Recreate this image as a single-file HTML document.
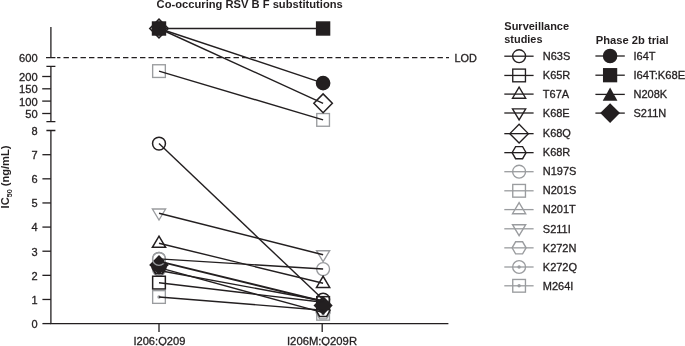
<!DOCTYPE html>
<html><head><meta charset="utf-8"><title>chart</title><style>html,body{margin:0;padding:0;background:#fff}body{width:685px;height:346px;overflow:hidden}svg{will-change:transform;opacity:0.999}</style></head><body>
<svg width="685" height="346" viewBox="0 0 685 346" style="display:block;font-family:'Liberation Sans',sans-serif">
<rect width="685" height="346" fill="#fff"/>
<text x="156.6" y="8.3" font-size="11" font-weight="bold" fill="#231f20" textLength="186.2" lengthAdjust="spacingAndGlyphs">Co-occuring RSV B F substitutions</text>
<g transform="translate(9.4,208.4) rotate(-90)"><text x="0" y="0" font-size="11" font-weight="bold" fill="#231f20" textLength="62.8" lengthAdjust="spacingAndGlyphs">IC<tspan font-size="7.2" dy="2.4">50</tspan><tspan dy="-2.4"> (ng/mL)</tspan></text></g>
<path d="M50.9 27.1 V57.55 M46 57.55 H55.4" stroke="#231f20" stroke-width="1.3" fill="none"/>
<path d="M46.4 66.4 H55.4 M50.9 66.4 V121.6 M46.4 121.6 H55.4" stroke="#231f20" stroke-width="1.3" fill="none"/>
<path d="M42.2 76.5 H50.9" stroke="#231f20" stroke-width="1.3" fill="none"/>
<path d="M42.2 88.8 H50.9" stroke="#231f20" stroke-width="1.3" fill="none"/>
<path d="M42.2 101.1 H50.9" stroke="#231f20" stroke-width="1.3" fill="none"/>
<path d="M42.2 113.5 H50.9" stroke="#231f20" stroke-width="1.3" fill="none"/>
<path d="M46.4 130.5 H55.4 M50.9 130.5 V323.6" stroke="#231f20" stroke-width="1.3" fill="none"/>
<path d="M42.4 323.60 H50.9" stroke="#231f20" stroke-width="1.3" fill="none"/>
<path d="M42.4 299.47 H50.9" stroke="#231f20" stroke-width="1.3" fill="none"/>
<path d="M42.4 275.34 H50.9" stroke="#231f20" stroke-width="1.3" fill="none"/>
<path d="M42.4 251.21 H50.9" stroke="#231f20" stroke-width="1.3" fill="none"/>
<path d="M42.4 227.08 H50.9" stroke="#231f20" stroke-width="1.3" fill="none"/>
<path d="M42.4 202.95 H50.9" stroke="#231f20" stroke-width="1.3" fill="none"/>
<path d="M42.4 178.82 H50.9" stroke="#231f20" stroke-width="1.3" fill="none"/>
<path d="M42.4 154.69 H50.9" stroke="#231f20" stroke-width="1.3" fill="none"/>
<path d="M50.25 323.6 H448.4 M159 323.6 V331.9 M322.2 323.6 V331.9" stroke="#231f20" stroke-width="1.3" fill="none"/>
<path d="M57.1 57.55 H449" stroke="#231f20" stroke-width="1.3" stroke-dasharray="5.4 3.1" stroke-dashoffset="2.1" fill="none"/>
<text x="37.7" y="61.8" font-size="11" text-anchor="end" fill="#231f20" stroke="#231f20" stroke-width="0.3" textLength="18.6" lengthAdjust="spacingAndGlyphs">600</text>
<text x="37.7" y="80.9" font-size="11" text-anchor="end" fill="#231f20" stroke="#231f20" stroke-width="0.3" textLength="18.6" lengthAdjust="spacingAndGlyphs">200</text>
<text x="37.7" y="93.2" font-size="11" text-anchor="end" fill="#231f20" stroke="#231f20" stroke-width="0.3" textLength="18.6" lengthAdjust="spacingAndGlyphs">150</text>
<text x="37.7" y="105.5" font-size="11" text-anchor="end" fill="#231f20" stroke="#231f20" stroke-width="0.3" textLength="18.6" lengthAdjust="spacingAndGlyphs">100</text>
<text x="37.7" y="117.9" font-size="11" text-anchor="end" fill="#231f20" stroke="#231f20" stroke-width="0.3" textLength="12.4" lengthAdjust="spacingAndGlyphs">50</text>
<text x="37.7" y="327.9" font-size="11" text-anchor="end" fill="#231f20" stroke="#231f20" stroke-width="0.3">0</text>
<text x="37.7" y="303.77" font-size="11" text-anchor="end" fill="#231f20" stroke="#231f20" stroke-width="0.3">1</text>
<text x="37.7" y="279.64" font-size="11" text-anchor="end" fill="#231f20" stroke="#231f20" stroke-width="0.3">2</text>
<text x="37.7" y="255.51000000000005" font-size="11" text-anchor="end" fill="#231f20" stroke="#231f20" stroke-width="0.3">3</text>
<text x="37.7" y="231.38000000000005" font-size="11" text-anchor="end" fill="#231f20" stroke="#231f20" stroke-width="0.3">4</text>
<text x="37.7" y="207.25000000000006" font-size="11" text-anchor="end" fill="#231f20" stroke="#231f20" stroke-width="0.3">5</text>
<text x="37.7" y="183.12000000000003" font-size="11" text-anchor="end" fill="#231f20" stroke="#231f20" stroke-width="0.3">6</text>
<text x="37.7" y="158.99000000000004" font-size="11" text-anchor="end" fill="#231f20" stroke="#231f20" stroke-width="0.3">7</text>
<text x="37.7" y="134.86000000000004" font-size="11" text-anchor="end" fill="#231f20" stroke="#231f20" stroke-width="0.3">8</text>
<text x="454.5" y="61.9" font-size="11" text-anchor="start" fill="#231f20" stroke="#231f20" stroke-width="0.3" textLength="22.4" lengthAdjust="spacingAndGlyphs">LOD</text>
<text x="159.4" y="345.2" font-size="11" text-anchor="middle" fill="#231f20" stroke="#231f20" stroke-width="0.3" textLength="52.0" lengthAdjust="spacingAndGlyphs">I206:Q209</text>
<text x="322.0" y="345.2" font-size="11" text-anchor="middle" fill="#231f20" stroke="#231f20" stroke-width="0.3" textLength="70.0" lengthAdjust="spacingAndGlyphs">I206M:Q209R</text>
<circle cx="159.00" cy="258.90" r="6.45" fill="none" stroke="#9a9c9f" stroke-width="1.35" stroke-linejoin="miter"/>
<circle cx="323.10" cy="269.10" r="6.45" fill="none" stroke="#9a9c9f" stroke-width="1.35" stroke-linejoin="miter"/>
<rect x="152.65" y="64.75" width="12.7" height="12.7" fill="none" stroke="#9a9c9f" stroke-width="1.35" stroke-linejoin="miter"/>
<rect x="316.75" y="113.55" width="12.7" height="12.7" fill="none" stroke="#9a9c9f" stroke-width="1.35" stroke-linejoin="miter"/>
<path d="M152.40 209.00 L165.60 209.00 L159.00 220.00 Z" fill="none" stroke="#9a9c9f" stroke-width="1.35" stroke-linejoin="miter"/>
<path d="M316.50 250.70 L329.70 250.70 L323.10 261.70 Z" fill="none" stroke="#9a9c9f" stroke-width="1.35" stroke-linejoin="miter"/>
<path d="M330.10 312.80 L326.60 318.86 L319.60 318.86 L316.10 312.80 L319.60 306.74 L326.60 306.74 Z" fill="none" stroke="#9a9c9f" stroke-width="1.35" stroke-linejoin="miter"/>
<circle cx="159.00" cy="269.50" r="6.45" fill="none" stroke="#9a9c9f" stroke-width="1.35" stroke-linejoin="miter"/><circle cx="159.00" cy="269.50" r="1.7" fill="#9a9c9f"/>
<rect x="152.65" y="290.65" width="12.7" height="12.7" fill="none" stroke="#9a9c9f" stroke-width="1.35" stroke-linejoin="miter"/><circle cx="159.00" cy="297.00" r="1.7" fill="#9a9c9f"/>
<rect x="316.75" y="307.45" width="12.7" height="12.7" fill="none" stroke="#9a9c9f" stroke-width="1.35" stroke-linejoin="miter"/><circle cx="323.10" cy="313.80" r="1.7" fill="#9a9c9f"/>
<circle cx="159.00" cy="143.60" r="6.45" fill="none" stroke="#231f20" stroke-width="1.5" stroke-linejoin="miter"/>
<circle cx="323.10" cy="299.60" r="6.45" fill="none" stroke="#231f20" stroke-width="1.5" stroke-linejoin="miter"/>
<rect x="152.65" y="276.25" width="12.7" height="12.7" fill="none" stroke="#231f20" stroke-width="1.5" stroke-linejoin="miter"/>
<rect x="316.75" y="296.65" width="12.7" height="12.7" fill="none" stroke="#231f20" stroke-width="1.5" stroke-linejoin="miter"/>
<path d="M152.40 247.30 L165.60 247.30 L159.00 236.20 Z" fill="none" stroke="#231f20" stroke-width="1.5" stroke-linejoin="miter"/>
<path d="M316.50 287.40 L329.70 287.40 L323.10 276.30 Z" fill="none" stroke="#231f20" stroke-width="1.5" stroke-linejoin="miter"/>
<path d="M149.75 28.50 L159.00 19.10 L168.25 28.50 L159.00 37.90 Z" fill="none" stroke="#231f20" stroke-width="1.5" stroke-linejoin="miter"/>
<path d="M313.85 103.30 L323.10 93.90 L332.35 103.30 L323.10 112.70 Z" fill="none" stroke="#231f20" stroke-width="1.5" stroke-linejoin="miter"/>
<path d="M166.00 267.80 L162.50 273.86 L155.50 273.86 L152.00 267.80 L155.50 261.74 L162.50 261.74 Z" fill="none" stroke="#231f20" stroke-width="1.5" stroke-linejoin="miter"/>
<path d="M330.10 310.40 L326.60 316.46 L319.60 316.46 L316.10 310.40 L319.60 304.34 L326.60 304.34 Z" fill="none" stroke="#231f20" stroke-width="1.5" stroke-linejoin="miter"/>
<circle cx="159.00" cy="28.50" r="6.6" fill="#231f20" stroke="#231f20" stroke-width="1.5" stroke-linejoin="miter"/>
<circle cx="323.10" cy="83.10" r="6.6" fill="#231f20" stroke="#231f20" stroke-width="1.5" stroke-linejoin="miter"/>
<rect x="152.55" y="22.05" width="12.9" height="12.9" fill="#231f20" stroke="#231f20" stroke-width="1.5" stroke-linejoin="miter"/>
<rect x="316.65" y="22.05" width="12.9" height="12.9" fill="#231f20" stroke="#231f20" stroke-width="1.5" stroke-linejoin="miter"/>
<path d="M149.40 264.90 L159.00 255.30 L168.60 264.90 L159.00 274.50 Z" fill="#231f20"/>
<path d="M313.50 305.50 L323.10 295.90 L332.70 305.50 L323.10 315.10 Z" fill="#231f20"/>
<path d="M165.30 267.80 L162.15 273.26 L155.85 273.26 L152.70 267.80 L155.85 262.34 L162.15 262.34 Z" fill="none" stroke="#231f20" stroke-width="1.6"/>
<path d="M149.40 264.90 L159.00 255.30 L168.60 264.90 L159.00 274.50 Z" fill="#231f20"/>
<circle cx="159.00" cy="258.90" r="6.45" fill="none" stroke="#9a9c9f" stroke-width="1.35" stroke-linejoin="miter"/>
<path d="M159.0 261.3 L323.1 301.5" stroke="#231f20" stroke-width="1.85" fill="none"/>
<path d="M159.0 143.6 L323.1 299.6" stroke="#231f20" stroke-width="1.4" fill="none"/>
<path d="M159.0 282.8 L323.1 302.3" stroke="#231f20" stroke-width="1.4" fill="none"/>
<path d="M159.0 243.2 L323.1 283.3" stroke="#231f20" stroke-width="1.4" fill="none"/>
<path d="M159.0 28.5 L323.1 103.3" stroke="#231f20" stroke-width="1.4" fill="none"/>
<path d="M159.0 258.9 L323.1 269.0" stroke="#231f20" stroke-width="1.4" fill="none"/>
<path d="M159.0 71.1 L323.1 119.9" stroke="#231f20" stroke-width="1.4" fill="none"/>
<path d="M159.0 213.2 L323.1 254.8" stroke="#231f20" stroke-width="1.4" fill="none"/>
<path d="M159.0 297.0 L323.1 310.2" stroke="#231f20" stroke-width="1.4" fill="none"/>
<path d="M159.0 28.5 L323.1 83.1" stroke="#231f20" stroke-width="1.4" fill="none"/>
<path d="M159.0 28.5 L323.1 28.5" stroke="#231f20" stroke-width="1.4" fill="none"/>
<path d="M159.0 270.5 L323.1 300.8" stroke="#231f20" stroke-width="1.4" fill="none"/>
<path d="M159.0 267.6 L323.1 312.6" stroke="#231f20" stroke-width="1.4" fill="none"/>
<text x="504.3" y="29.6" font-size="11" text-anchor="start" fill="#231f20" font-weight="bold" textLength="64.8" lengthAdjust="spacingAndGlyphs">Surveillance</text>
<text x="504.3" y="43.2" font-size="11" text-anchor="start" fill="#231f20" font-weight="bold" textLength="38.2" lengthAdjust="spacingAndGlyphs">studies</text>
<text x="595.7" y="43.6" font-size="11" text-anchor="start" fill="#231f20" font-weight="bold" textLength="72.9" lengthAdjust="spacingAndGlyphs">Phase 2b trial</text>
<path d="M504.3 56.20 H533.6" stroke="#231f20" stroke-width="1.3"/>
<circle cx="519.10" cy="56.20" r="6.45" fill="none" stroke="#231f20" stroke-width="1.35" stroke-linejoin="miter"/>
<text x="542.8" y="60.1" font-size="11" text-anchor="start" fill="#231f20" stroke="#231f20" stroke-width="0.3">N63S</text>
<path d="M504.3 75.45 H533.6" stroke="#231f20" stroke-width="1.3"/>
<rect x="512.75" y="69.10" width="12.7" height="12.7" fill="none" stroke="#231f20" stroke-width="1.35" stroke-linejoin="miter"/>
<text x="542.8" y="79.23" font-size="11" text-anchor="start" fill="#231f20" stroke="#231f20" stroke-width="0.3">K65R</text>
<path d="M504.3 94.10 H533.6" stroke="#231f20" stroke-width="1.3"/>
<path d="M512.50 98.20 L525.70 98.20 L519.10 87.10 Z" fill="none" stroke="#231f20" stroke-width="1.35" stroke-linejoin="miter"/>
<text x="542.8" y="98.36000000000001" font-size="11" text-anchor="start" fill="#231f20" stroke="#231f20" stroke-width="0.3">T67A</text>
<path d="M504.3 113.00 H533.6" stroke="#231f20" stroke-width="1.3"/>
<path d="M512.50 108.90 L525.70 108.90 L519.10 119.90 Z" fill="none" stroke="#231f20" stroke-width="1.35" stroke-linejoin="miter"/>
<text x="542.8" y="117.49000000000001" font-size="11" text-anchor="start" fill="#231f20" stroke="#231f20" stroke-width="0.3">K68E</text>
<path d="M504.3 133.65 H533.6" stroke="#231f20" stroke-width="1.3"/>
<path d="M509.85 133.65 L519.10 124.25 L528.35 133.65 L519.10 143.05 Z" fill="none" stroke="#231f20" stroke-width="1.35" stroke-linejoin="miter"/>
<text x="542.8" y="136.62" font-size="11" text-anchor="start" fill="#231f20" stroke="#231f20" stroke-width="0.3">K68Q</text>
<path d="M504.3 152.65 H533.6" stroke="#231f20" stroke-width="1.3"/>
<path d="M526.10 152.65 L522.60 158.71 L515.60 158.71 L512.10 152.65 L515.60 146.59 L522.60 146.59 Z" fill="none" stroke="#231f20" stroke-width="1.35" stroke-linejoin="miter"/>
<text x="542.8" y="155.75" font-size="11" text-anchor="start" fill="#231f20" stroke="#231f20" stroke-width="0.3">K68R</text>
<path d="M504.3 171.70 H533.6" stroke="#9a9c9f" stroke-width="1.3"/>
<circle cx="519.10" cy="171.70" r="6.45" fill="none" stroke="#9a9c9f" stroke-width="1.35" stroke-linejoin="miter"/>
<text x="542.8" y="175.23000000000002" font-size="11" text-anchor="start" fill="#231f20" stroke="#231f20" stroke-width="0.3">N197S</text>
<path d="M504.3 190.80 H533.6" stroke="#9a9c9f" stroke-width="1.3"/>
<rect x="512.75" y="184.45" width="12.7" height="12.7" fill="none" stroke="#9a9c9f" stroke-width="1.35" stroke-linejoin="miter"/>
<text x="542.8" y="194.41000000000003" font-size="11" text-anchor="start" fill="#231f20" stroke="#231f20" stroke-width="0.3">N201S</text>
<path d="M504.3 209.60 H533.6" stroke="#9a9c9f" stroke-width="1.3"/>
<path d="M512.50 213.70 L525.70 213.70 L519.10 202.60 Z" fill="none" stroke="#9a9c9f" stroke-width="1.35" stroke-linejoin="miter"/>
<text x="542.8" y="213.39000000000001" font-size="11" text-anchor="start" fill="#231f20" stroke="#231f20" stroke-width="0.3">N201T</text>
<path d="M504.3 228.80 H533.6" stroke="#9a9c9f" stroke-width="1.3"/>
<path d="M512.50 224.70 L525.70 224.70 L519.10 235.70 Z" fill="none" stroke="#9a9c9f" stroke-width="1.35" stroke-linejoin="miter"/>
<text x="542.8" y="232.52" font-size="11" text-anchor="start" fill="#231f20" stroke="#231f20" stroke-width="0.3">S211I</text>
<path d="M504.3 247.85 H533.6" stroke="#9a9c9f" stroke-width="1.3"/>
<path d="M526.10 247.85 L522.60 253.91 L515.60 253.91 L512.10 247.85 L515.60 241.79 L522.60 241.79 Z" fill="none" stroke="#9a9c9f" stroke-width="1.35" stroke-linejoin="miter"/>
<text x="542.8" y="251.65" font-size="11" text-anchor="start" fill="#231f20" stroke="#231f20" stroke-width="0.3">K272N</text>
<path d="M504.3 267.00 H533.6" stroke="#9a9c9f" stroke-width="1.3"/>
<circle cx="519.10" cy="267.00" r="6.45" fill="none" stroke="#9a9c9f" stroke-width="1.35" stroke-linejoin="miter"/><circle cx="519.10" cy="267.00" r="1.7" fill="#9a9c9f"/>
<text x="542.8" y="270.78" font-size="11" text-anchor="start" fill="#231f20" stroke="#231f20" stroke-width="0.3">K272Q</text>
<path d="M504.3 285.80 H533.6" stroke="#9a9c9f" stroke-width="1.3"/>
<rect x="512.75" y="279.45" width="12.7" height="12.7" fill="none" stroke="#9a9c9f" stroke-width="1.35" stroke-linejoin="miter"/><circle cx="519.10" cy="285.80" r="1.7" fill="#9a9c9f"/>
<text x="542.8" y="289.65999999999997" font-size="11" text-anchor="start" fill="#231f20" stroke="#231f20" stroke-width="0.3">M264I</text>
<path d="M595.4 56.00 H624.8" stroke="#231f20" stroke-width="1.3"/>
<circle cx="610.10" cy="56.00" r="6.6" fill="#231f20" stroke="#231f20" stroke-width="1.35" stroke-linejoin="miter"/>
<text x="633.5" y="59.9" font-size="11" text-anchor="start" fill="#231f20" stroke="#231f20" stroke-width="0.3">I64T</text>
<path d="M595.4 75.20 H624.8" stroke="#231f20" stroke-width="1.3"/>
<rect x="603.65" y="68.75" width="12.9" height="12.9" fill="#231f20" stroke="#231f20" stroke-width="1.35" stroke-linejoin="miter"/>
<text x="633.5" y="79.10000000000001" font-size="11" text-anchor="start" fill="#231f20" stroke="#231f20" stroke-width="0.3" textLength="51.7" lengthAdjust="spacingAndGlyphs">I64T:K68E</text>
<path d="M595.4 94.40 H624.8" stroke="#231f20" stroke-width="1.3"/>
<path d="M602.75 100.70 L617.45 100.70 L610.10 87.60 Z" fill="#231f20"/>
<text x="633.5" y="98.30000000000001" font-size="11" text-anchor="start" fill="#231f20" stroke="#231f20" stroke-width="0.3">N208K</text>
<path d="M595.4 113.10 H624.8" stroke="#231f20" stroke-width="1.3"/>
<path d="M600.20 113.10 L610.10 103.20 L620.00 113.10 L610.10 123.00 Z" fill="#231f20"/>
<text x="633.5" y="116.7" font-size="11" text-anchor="start" fill="#231f20" stroke="#231f20" stroke-width="0.3">S211N</text>
</svg>
</body></html>
